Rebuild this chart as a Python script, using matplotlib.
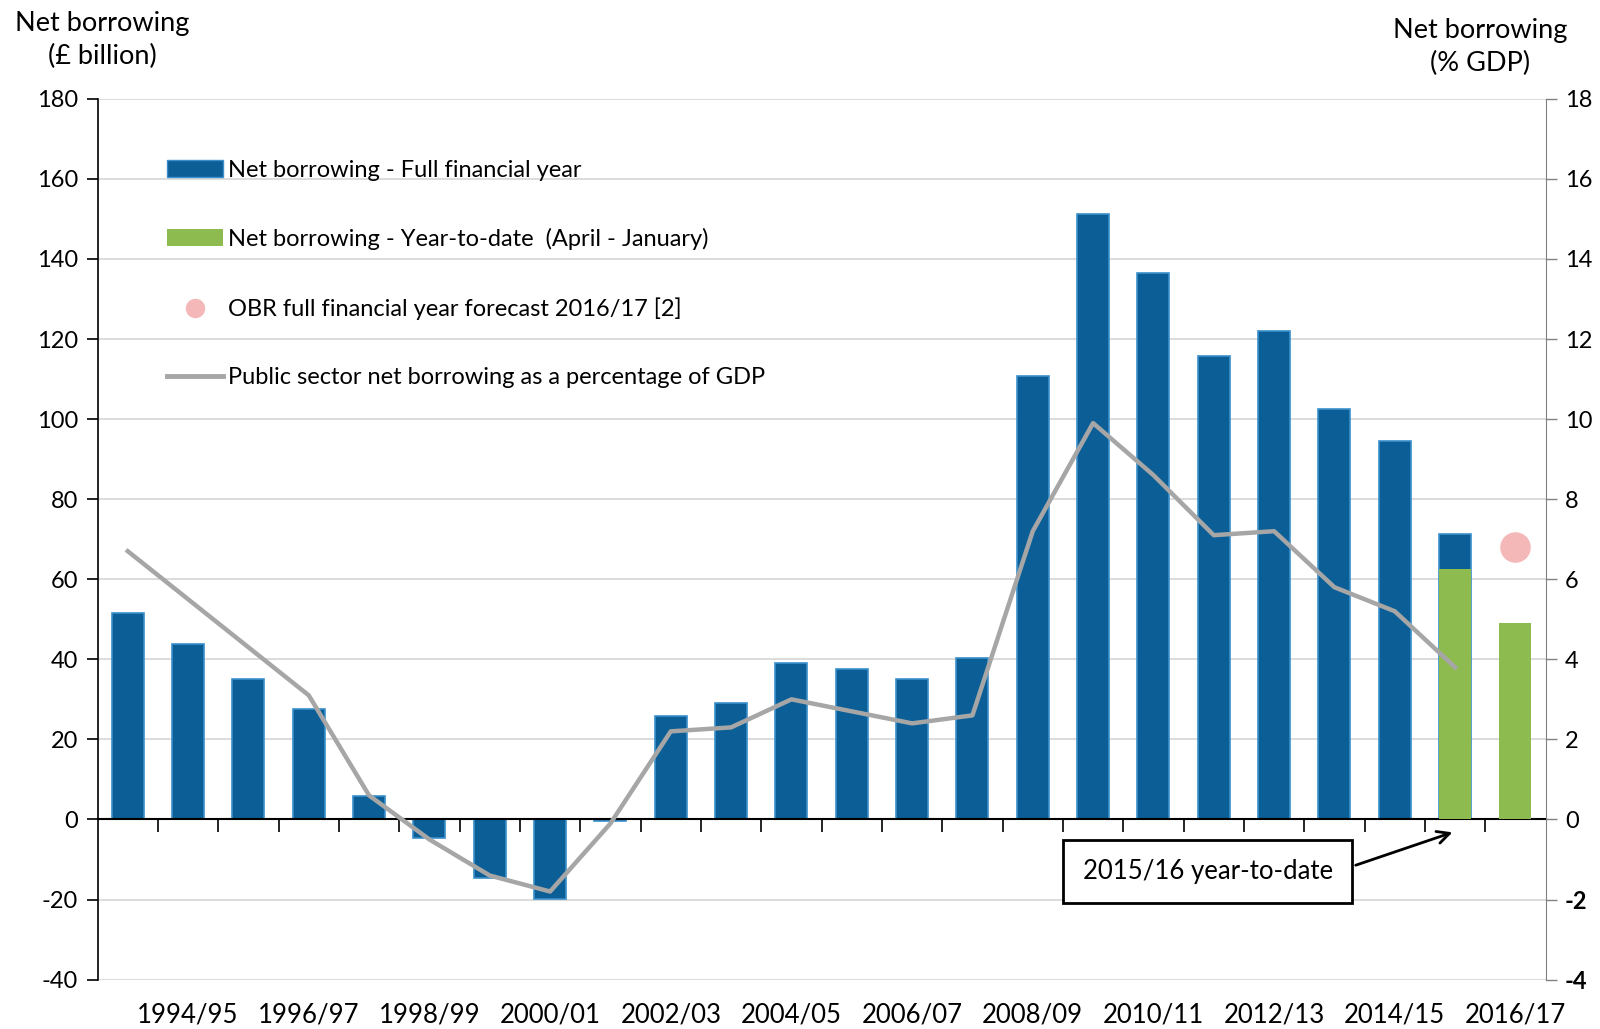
import numpy as np
import matplotlib
matplotlib.use('Agg')
import matplotlib.pyplot as plt
import matplotlib.transforms as mtransforms
from matplotlib.lines import Line2D
from matplotlib.patches import Patch

plt.rcParams['font.family'] = ['Lato', 'DejaVu Sans']
plt.rcParams['axes.unicode_minus'] = False

# --- data ---
years = ['1993/94', '1994/95', '1995/96', '1996/97', '1997/98', '1998/99',
         '1999/00', '2000/01', '2001/02', '2002/03', '2003/04', '2004/05',
         '2005/06', '2006/07', '2007/08', '2008/09', '2009/10', '2010/11',
         '2011/12', '2012/13', '2013/14', '2014/15', '2015/16', '2016/17']
# £ billion, full financial year
full_year = [51.5, 43.9, 35.2, 27.5, 5.9, -4.6, -14.5, -19.9, -0.5, 25.8,
             29.1, 39.0, 37.5, 35.2, 40.3, 110.7, 151.2, 136.4, 115.8, 122.1,
             102.5, 94.6, 71.4, np.nan]
# £ billion, year-to-date April - January
ytd_years = ['2015/16', '2016/17']
ytd = [62.6, 49.1]
# OBR forecast 2016/17, £ billion
obr_year = ['2016/17']
obr_forecast = [68.1]
# % of GDP
pct_years = years[:23]
pct_gdp = [6.7, 5.5, 4.3, 3.1, 0.6, -0.5, -1.4, -1.8, -0.1, 2.2, 2.3, 3.0,
           2.7, 2.4, 2.6, 7.2, 9.9, 8.6, 7.1, 7.2, 5.8, 5.2, 3.8]
label_years = years[1::2]

blue = '#0B5F96'
blue_edge = '#3A8FCC'
green = '#8DBB50'
pink = '#F5B8B8'
grey = '#A6A6A6'

fig = plt.figure(figsize=(16, 10.29), dpi=100)
ax = fig.add_axes([0.061, 0.048, 0.905, 0.856])
ax2 = ax.twinx()

x = np.arange(len(years))
idx = {y: i for i, y in enumerate(years)}

ax.bar(x, full_year, width=0.53, color=blue, edgecolor=blue_edge, linewidth=1.2, zorder=2)
ax.bar([idx[y] for y in ytd_years], ytd, width=0.53, color=green, linewidth=0, zorder=3)
ax.plot([idx[y] for y in obr_year], obr_forecast, 'o', color=pink, markersize=21, zorder=4)
ax2.plot([idx[y] for y in pct_years], pct_gdp, color=grey, linewidth=3.2, zorder=5)

ax.set_xlim(-0.5, len(years) - 0.5)
ax.set_ylim(-40, 180)
ax2.set_ylim(-4, 18)
ax.set_yticks(np.arange(-40, 181, 20))
ax2.set_yticks(np.arange(-4, 19, 2))

ax.grid(axis='y', color='#D9D9D9', linewidth=1.3, zorder=0)
ax.set_axisbelow(True)

for a in (ax, ax2):
    a.spines['top'].set_visible(False)
ax.spines['right'].set_visible(False)
ax2.spines['left'].set_visible(False)
ax2.spines['bottom'].set_visible(False)
ax2.spines['right'].set_color('#808080')
ax.spines['bottom'].set_position(('data', 0))
ax.spines['bottom'].set_linewidth(1.5)
ax.spines['left'].set_linewidth(1.2)

ax.set_xticks(np.arange(0.5, len(years) - 0.5, 1))
ax.tick_params(axis='x', direction='out', length=9, width=1.2, labelbottom=False)
ax.tick_params(axis='y', length=8, width=1.2, labelsize=17, pad=6)
ax2.tick_params(axis='y', length=8, width=1.0, color='#808080', labelsize=17, pad=6)
for t in ax2.get_yticklabels():
    if t.get_text().startswith('-'):
        t.set_fontweight('bold')

trans = mtransforms.blended_transform_factory(ax.transData, ax.transAxes)
for y in label_years:
    ax.text(idx[y], -0.04, y, transform=trans, ha='center', va='center', fontsize=18.5)

fig.text(0.064, 0.961, 'Net borrowing\n(\u00a3 billion)', ha='center', va='center',
         fontsize=19.5, linespacing=1.4)
fig.text(0.925, 0.954, 'Net borrowing\n(% GDP)', ha='center', va='center',
         fontsize=19.5, linespacing=1.4)

handles = [Patch(facecolor=blue, edgecolor=blue_edge),
           Patch(facecolor=green),
           Line2D([], [], marker='o', linestyle='none', color=pink, markersize=13),
           Line2D([], [], color=grey, linewidth=3.5)]
labels = ['Net borrowing - Full financial year',
          'Net borrowing - Year-to-date  (April - January)',
          'OBR full financial year forecast 2016/17 [2]',
          'Public sector net borrowing as a percentage of GDP']
ax.legend(handles, labels, loc='upper left', bbox_to_anchor=(0.033, 0.955),
          frameon=False, fontsize=17, handlelength=2.4, handleheight=0.7,
          handletextpad=0.2, labelspacing=2.0)

ax.annotate('2015/16 year-to-date', xy=(22, -3.0), xytext=(17.9, -13),
            ha='center', va='center', fontsize=18.5, zorder=6,
            bbox=dict(boxstyle='square,pad=0.75', facecolor='white', edgecolor='black', linewidth=2),
            arrowprops=dict(arrowstyle='->', color='black', lw=2, mutation_scale=22,
                            relpos=(1.0, 0.44)))

fig.savefig('out.png', dpi=100)
